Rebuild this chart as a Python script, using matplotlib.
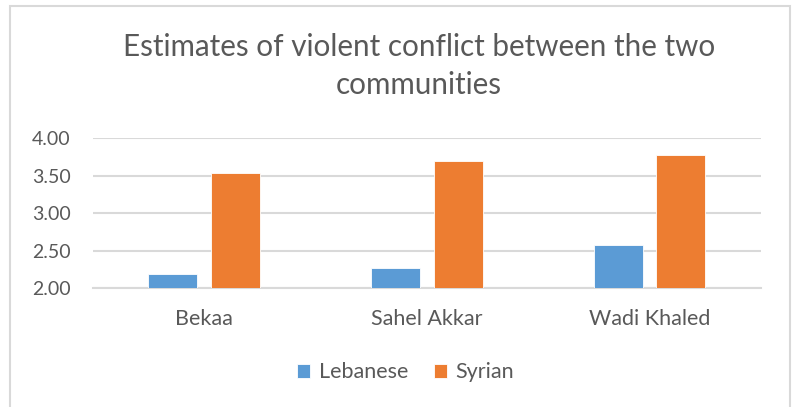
import numpy as np
import matplotlib.pyplot as plt
from matplotlib.patches import Rectangle

# Dados
regioes = ['Bekaa', 'Sahel Akkar', 'Wadi Khaled']
libaneses = [2.19, 2.27, 2.57]
sirios = [3.53, 3.69, 3.77]
yticks = [2.00, 2.50, 3.00, 3.50, 4.00]

cor_texto = '#595959'
cor_grade = '#d9d9d9'
plt.rcParams['font.family'] = ['Lato', 'DejaVu Sans']

fig = plt.figure(figsize=(7.95, 4.07), dpi=100)
ax = fig.add_axes([0.117, 0.292, 0.840, 0.369])

x = np.arange(len(regioes))
larg = 0.22
ax.bar(x - 0.141, libaneses, larg, color='#5B9BD5', edgecolor='white', linewidth=0.6, label='Lebanese', zorder=3)
ax.bar(x + 0.141, sirios, larg, color='#ED7D31', edgecolor='white', linewidth=0.6, label='Syrian', zorder=3)

ax.set_xlim(-0.5, 2.5)
ax.set_ylim(2.0, 4.0)
ax.set_yticks(yticks)
ax.set_yticklabels([f'{v:.2f}' for v in yticks])
ax.set_xticks(x)
ax.set_xticklabels(regioes)
ax.tick_params(length=0, labelcolor=cor_texto)
ax.tick_params(axis='x', pad=15, labelsize=15.5)
ax.tick_params(axis='y', pad=16, labelsize=14)
ax.yaxis.grid(True, color=cor_grade, linewidth=1.5, zorder=0)
for lado in ['left', 'right', 'top']:
    ax.spines[lado].set_visible(False)
ax.spines['bottom'].set_color(cor_grade)
ax.spines['bottom'].set_linewidth(1.5)

fig.text(0.527, 0.838, 'Estimates of violent conflict between the two\ncommunities',
         ha='center', va='center', fontsize=21.3, color=cor_texto, linespacing=1.42)

fig.legend(loc='center', bbox_to_anchor=(0.51, 0.085), ncol=2, frameon=False,
           fontsize=15.5, labelcolor=cor_texto, handlelength=0.6, handleheight=0.6,
           handletextpad=0.4, columnspacing=1.2)

# Borda do gráfico
fig.patches.append(Rectangle((10 / 795, -0.05), 780 / 795, 1 - 6 / 407 + 0.05,
                             transform=fig.transFigure, fill=False,
                             edgecolor=cor_grade, linewidth=1.5))

fig.savefig('out.png', dpi=100)
